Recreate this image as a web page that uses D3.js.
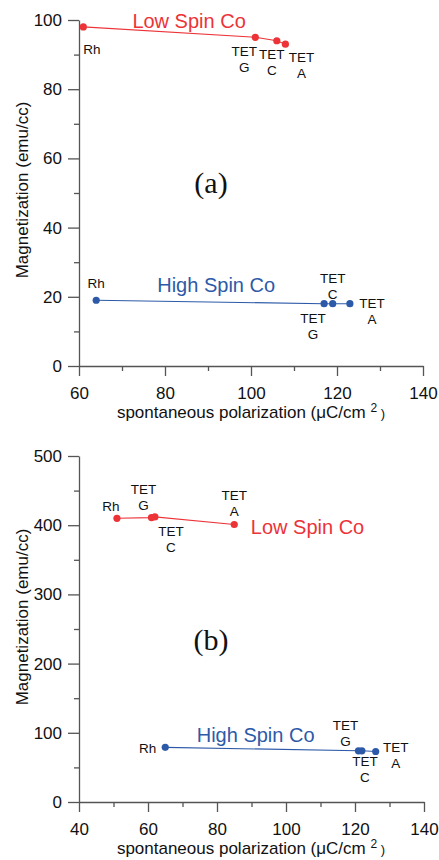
<!DOCTYPE html>
<html>
<head>
<meta charset="utf-8">
<script src="https://cdn.jsdelivr.net/npm/d3@7"></script>
<style>
  html, body { margin: 0; padding: 0; background: #fff; }
  svg { display: block; font-family: "Liberation Sans", Arial, sans-serif; }
</style>
</head>
<body>
<svg id="chart" width="439" height="860"></svg>
<script>
// panel (a)
const aNames = ["Rh", "TET G", "TET C", "TET A"];
const aLowX = [61, 101, 106, 108];
const aLowY = [98, 95, 94, 93];
const aHighX = [64, 117, 119, 123];
const aHighY = [19, 18, 18, 18];
const aXTicks = [60, 80, 100, 120, 140];
const aYTicks = [0, 20, 40, 60, 80, 100];

// panel (b)
const bNames = ["Rh", "TET G", "TET C", "TET A"];
const bLowX = [51, 61, 62, 85];
const bLowY = [410, 411, 412, 401];
const bHighX = [65, 121, 122, 126];
const bHighY = [79, 74, 74, 73];
const bXTicks = [40, 60, 80, 100, 120, 140];
const bYTicks = [0, 100, 200, 300, 400, 500];

const red = "#ec3338";
const blue = "#2d5aa8";
const axisColor = "#555";

// label placement (pixels from point): [dx, dy of first line, anchor]
const offsets = {
  aLow: [[0, 22, "start"], [-11, 14, "middle"], [-5, 13, "middle"], [16, 13, "middle"]],
  aHigh: [[0, -17, "middle"], [-11, 14, "middle"], [0, -26, "middle"], [22, -1, "middle"]],
  bLow: [[-6, -12, "middle"], [-8, -29, "middle"], [16, 14, "middle"], [0, -30, "middle"]],
  bHigh: [[-9, 1, "end"], [-13, -26, "middle"], [3, 10, "middle"], [20, -4, "middle"]],
};

const svg = d3.select("#chart");
svg.append("rect").attr("width", 439).attr("height", 860).attr("fill", "#fff");

function drawPanel(cfg) {
  const g = svg.append("g");
  const x = d3.scaleLinear().domain(cfg.xDomain).range([79, cfg.xRight]);
  const y = d3.scaleLinear().domain(cfg.yDomain).range([cfg.yBottom, cfg.yTop]);

  // minor ticks first
  g.append("g")
    .attr("transform", `translate(0,${cfg.yBottom})`)
    .call(d3.axisBottom(x).tickValues(cfg.xMinor).tickSize(5).tickFormat(""))
    .call((s) => s.select(".domain").remove());
  g.append("g")
    .attr("transform", "translate(79,0)")
    .call(d3.axisLeft(y).tickValues(cfg.yMinor).tickSize(5).tickFormat(""))
    .call((s) => s.select(".domain").remove());

  const xAxis = g.append("g")
    .attr("transform", `translate(0,${cfg.yBottom})`)
    .call(d3.axisBottom(x).tickValues(cfg.xTicks).tickSize(10).tickSizeOuter(0).tickPadding(11));
  const yAxis = g.append("g")
    .attr("transform", "translate(79,0)")
    .call(d3.axisLeft(y).tickValues(cfg.yTicks).tickSize(11).tickSizeOuter(0).tickPadding(6));

  g.selectAll(".tick line, .domain").attr("stroke", axisColor).attr("stroke-width", 1.3);
  [xAxis, yAxis].forEach((ax) =>
    ax.selectAll("text")
      .attr("fill", "#111")
      .attr("font-size", 17)
      .attr("font-family", "Liberation Sans, Arial, sans-serif"));

  // series
  cfg.series.forEach((s) => {
    const pts = s.xs.map((v, i) => ({ x: v, y: s.ys[i], name: cfg.names[i], off: s.off[i] }));
    g.append("path")
      .datum(pts)
      .attr("fill", "none")
      .attr("stroke", s.color)
      .attr("stroke-width", 1.1)
      .attr("d", d3.line().x((d) => x(d.x)).y((d) => y(d.y)));
    g.selectAll(null)
      .data(pts)
      .join("circle")
      .attr("cx", (d) => x(d.x))
      .attr("cy", (d) => y(d.y))
      .attr("r", 3.6)
      .attr("fill", s.color);

    const lbl = g.selectAll(null)
      .data(pts)
      .join("text")
      .attr("font-size", 13.5)
      .attr("fill", "#111")
      .attr("text-anchor", (d) => d.off[2])
      .attr("dominant-baseline", "central");
    lbl.each(function (d) {
      const parts = d.name.split(" ");
      const t = d3.select(this);
      parts.forEach((p, j) => {
        t.append("tspan")
          .attr("x", x(d.x) + d.off[0])
          .attr("y", y(d.y) + d.off[1] + j * 16)
          .text(p);
      });
    });

    g.append("text")
      .attr("x", x(s.title[0]))
      .attr("y", y(s.title[1]))
      .attr("text-anchor", s.title[2])
      .attr("font-size", 20)
      .attr("fill", s.color)
      .text(s.name);
  });

  // panel letter
  g.append("text")
    .attr("x", 211)
    .attr("y", cfg.letterY)
    .attr("text-anchor", "middle")
    .attr("font-family", "Liberation Serif, 'Times New Roman', serif")
    .attr("font-size", 30)
    .attr("fill", "#111")
    .text(cfg.letter);

  // axis titles
  g.append("text")
    .attr("transform", `translate(${28},${cfg.yTitleCenter}) rotate(-90)`)
    .attr("text-anchor", "middle")
    .attr("font-size", 17)
    .attr("fill", "#111")
    .text("Magnetization (emu/cc)");

  const xt = g.append("text")
    .attr("x", 251)
    .attr("y", cfg.xTitleY)
    .attr("text-anchor", "middle")
    .attr("font-size", 17)
    .attr("fill", "#111");
  xt.append("tspan").text("spontaneous polarization (\u03bcC/cm ");
  xt.append("tspan").attr("font-size", 12).attr("dy", -6).text("2");
  xt.append("tspan").attr("font-size", 13).attr("dy", 6).text(" )");
}

drawPanel({
  xDomain: [60, 140], xRight: 423,
  yDomain: [0, 100], yBottom: 366, yTop: 20,
  xTicks: aXTicks, yTicks: aYTicks,
  xMinor: [70, 90, 110, 130], yMinor: [10, 30, 50, 70, 90],
  names: aNames,
  series: [
    { name: "Low Spin Co", color: red, xs: aLowX, ys: aLowY, off: offsets.aLow, title: [85.6, 97.6, "middle"] },
    { name: "High Spin Co", color: blue, xs: aHighX, ys: aHighY, off: offsets.aHigh, title: [91.9, 21.3, "middle"] },
  ],
  letter: "(a)", letterY: 193,
  yTitleCenter: 190, xTitleY: 418,
});

drawPanel({
  xDomain: [40, 140], xRight: 424,
  yDomain: [0, 500], yBottom: 802, yTop: 456,
  xTicks: bXTicks, yTicks: bYTicks,
  xMinor: [50, 70, 90, 110, 130], yMinor: [50, 150, 250, 350, 450],
  names: bNames,
  series: [
    { name: "Low Spin Co", color: red, xs: bLowX, ys: bLowY, off: offsets.bLow, title: [89.8, 386.7, "start"] },
    { name: "High Spin Co", color: blue, xs: bHighX, ys: bHighY, off: offsets.bHigh, title: [91.2, 86.8, "middle"] },
  ],
  letter: "(b)", letterY: 650,
  yTitleCenter: 617, xTitleY: 854,
});
</script>
</body>
</html>
